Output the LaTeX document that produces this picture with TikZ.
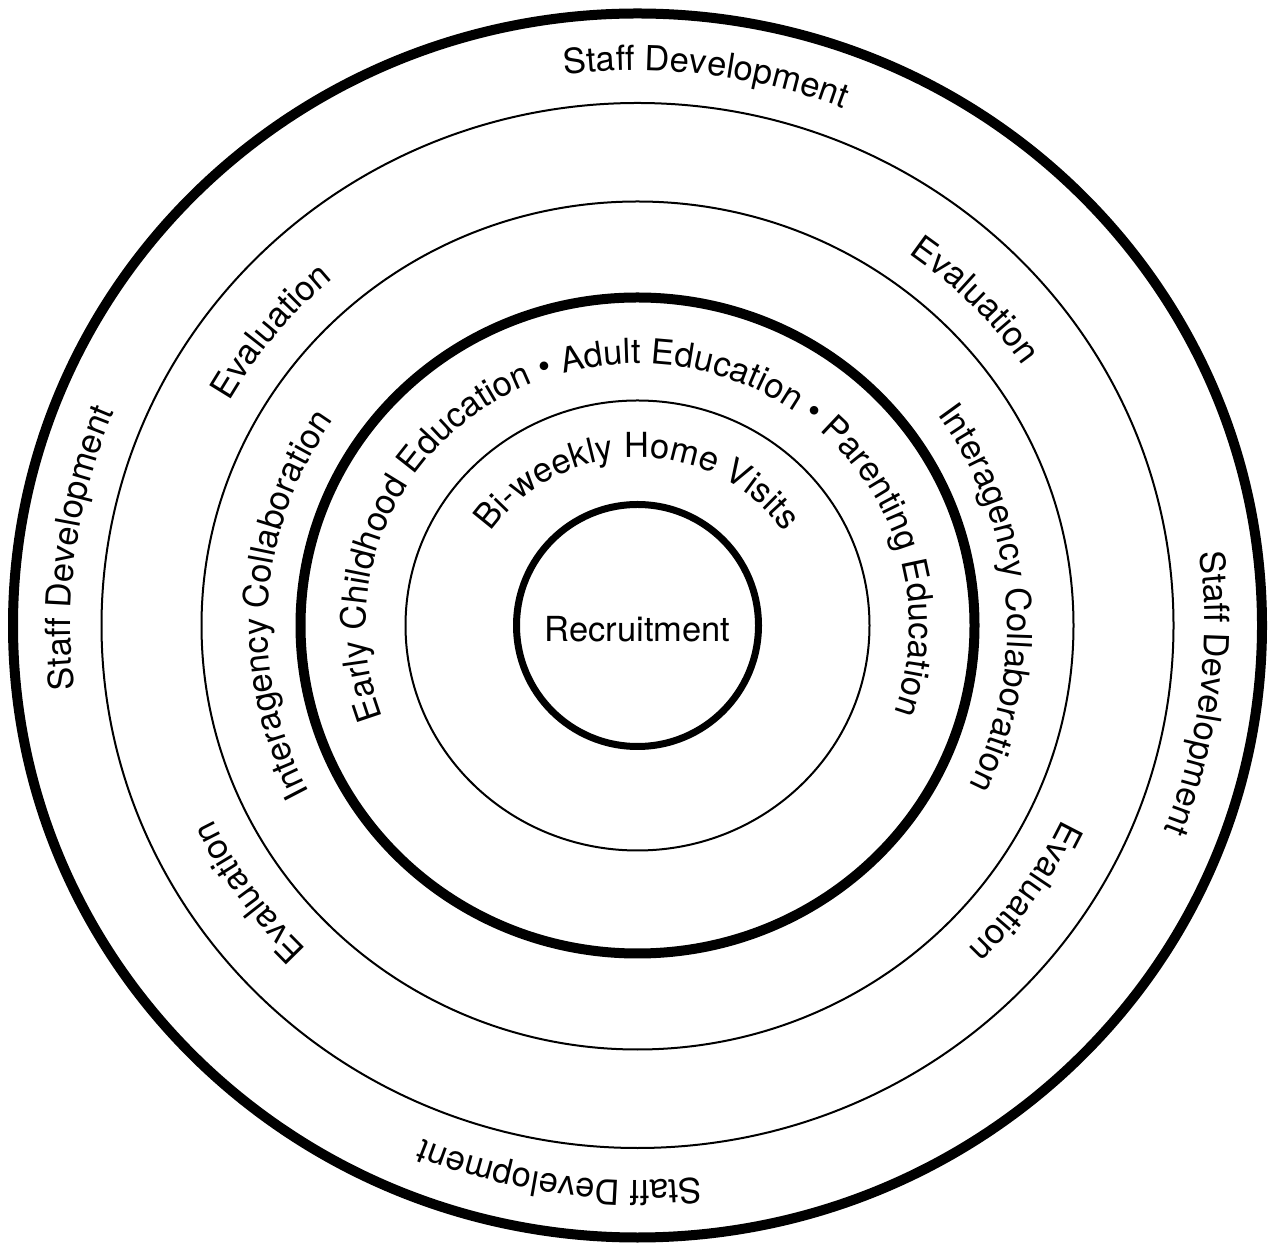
\documentclass[tikz,border=0pt]{standalone}
\usepackage{fontspec}
\setmainfont{TeX Gyre Heros}
\usetikzlibrary{decorations.text}
\tikzset{
  thickring/.style={draw, line width=10pt},
  innerring/.style={draw, line width=7pt},
  thinring/.style={draw, line width=2pt},
  ringtext/.style={decorate, decoration={text along path, text align=center, text={#1}}},
}

\begin{document}
\begin{tikzpicture}[x=1pt, y=1pt]
  \fontsize{34.5}{41}\selectfont
  \useasboundingbox (0,0) rectangle (1274,1248);
  \fill[white] (0,0) rectangle (1274,1248);
  \coordinate (c) at (637.5,622.5);

  % rings, outside in
  \draw[thickring] (c) ellipse [x radius=624.5, y radius=612];
  \draw[thinring]  (c) ellipse [x radius=536, y radius=522.5];
  \draw[thinring]  (c) ellipse [x radius=436, y radius=424];
  \draw[thickring] (c) ellipse [x radius=337, y radius=328];
  \draw[thinring]  (c) ellipse [x radius=232, y radius=225];
  \draw[innerring] (c) circle (121);

  % outer band
  \path[ringtext={Staff Development}] ([shift={(123:567 and 555)}]c) arc[start angle=123, end angle=43, x radius=567, y radius=555];
  \path[ringtext={Staff Development}] ([shift={(212:567 and 555)}]c) arc[start angle=212, end angle=132, x radius=567, y radius=555];
  \path[ringtext={Staff Development}] ([shift={(302:567 and 555)}]c) arc[start angle=302, end angle=222, x radius=567, y radius=555];
  \path[ringtext={Staff Development}] ([shift={(33:567 and 555)}]c) arc[start angle=33, end angle=-47, x radius=567, y radius=555];

  % second band
  \path[ringtext={Evaluation}] ([shift={(170.7:469 and 456)}]c) arc[start angle=170.7, end angle=110.7, x radius=469, y radius=456];
  \path[ringtext={Evaluation}] ([shift={(74.5:469 and 456)}]c) arc[start angle=74.5, end angle=14.5, x radius=469, y radius=456];
  \path[ringtext={Evaluation}] ([shift={(245:469 and 456)}]c) arc[start angle=245, end angle=185, x radius=469, y radius=456];
  \path[ringtext={Evaluation}] ([shift={(-5:469 and 456)}]c) arc[start angle=-5, end angle=-65, x radius=469, y radius=456];

  % third band
  \path[ringtext={Interagency Collaboration}] ([shift={(226.4:370 and 360)}]c) arc[start angle=226.4, end angle=126.4, x radius=370, y radius=360];
  \path[ringtext={Interagency Collaboration}] ([shift={(54.7:370 and 360)}]c) arc[start angle=54.7, end angle=-45.3, x radius=370, y radius=360];

  % programme band
  \path[ringtext={Early Childhood Education • Adult Education • Parenting Education}] ([shift={(215.5:272 and 262)}]c) arc[start angle=215.5, end angle=-34.5, x radius=272, y radius=262];

  % home visits band
  \path[ringtext={Bi-weekly Home Visits}] ([shift={(170:176 and 168)}]c) arc[start angle=170, end angle=10, x radius=176, y radius=168];

  \node (recruit) at ([yshift=-4pt]c) {Recruitment};
\end{tikzpicture}
\end{document}
